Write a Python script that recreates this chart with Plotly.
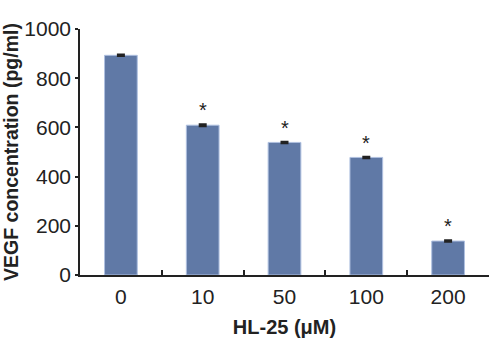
import plotly.graph_objects as go

categories = ["0", "10", "50", "100", "200"]
values = [893, 609, 539, 478, 138]
errors = [3, 4, 3, 3, 3]
significant = [False, True, True, True, True]

fig = go.Figure()
fig.add_trace(go.Bar(
    x=categories, y=values,
    width=0.4,
    marker=dict(color="#6079A6", line=dict(color="#AFC0E0", width=1)),
    error_y=dict(type="data", array=errors, visible=True, color="#222222", thickness=2, width=4),
))

for i, (v, e, s) in enumerate(zip(values, errors, significant)):
    if s:
        fig.add_annotation(x=i, y=v + e, xref="x", yref="y", text="*", showarrow=False,
                           yanchor="bottom", yshift=1,
                           font=dict(family="Liberation Sans, Arial", size=20, color="#222222"))

fig.update_layout(
    width=500, height=343,
    margin=dict(l=80, r=11, t=29, b=68, autoexpand=False),
    paper_bgcolor="white", plot_bgcolor="white",
    showlegend=False,
    font=dict(family="Liberation Sans, Arial", color="#222222", size=20),
    bargap=0.6,
)
fig.update_xaxes(
    type="category", range=[-0.5, 4.5], automargin=False,
    showline=True, linecolor="#222222", linewidth=1.5,
    ticks="inside", tickson="boundaries", ticklen=5, tickcolor="#222222", tickwidth=1.5,
    tickfont=dict(size=21), ticklabelstandoff=2,
    title=dict(text="<b>HL-25 (μM)</b>", font=dict(size=20), standoff=13),
)
fig.update_yaxes(
    range=[0, 1000], tickvals=[0, 200, 400, 600, 800, 1000], automargin=False,
    showline=True, linecolor="#222222", linewidth=1.5,
    ticks="outside", ticklen=3, tickcolor="#222222", tickwidth=1.5,
    showgrid=False, zeroline=False,
    tickfont=dict(size=21),
    title=dict(text="<b>VEGF concentration (pg/ml)</b>", font=dict(size=19.5), standoff=8),
)

fig.write_html("out.html", config={"displayModeBar": False},
               post_script="document.body.style.margin='0';")
